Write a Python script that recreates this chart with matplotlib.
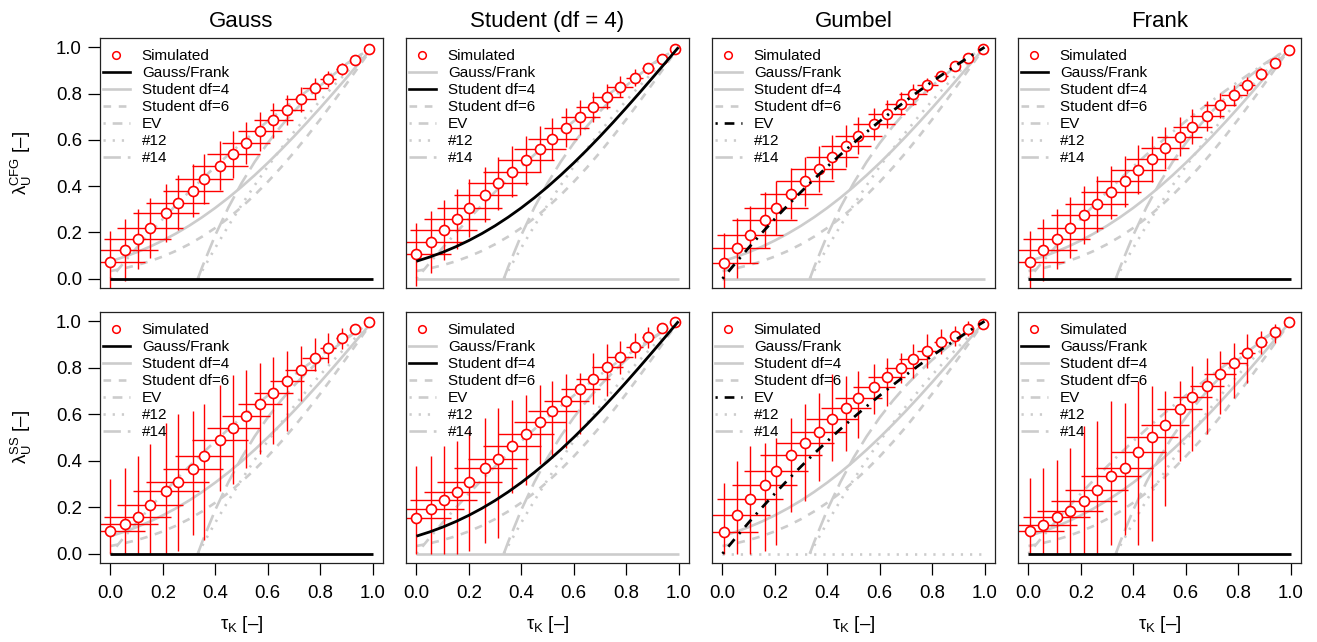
import matplotlib
matplotlib.use('Agg')
import matplotlib.pyplot as plt
from matplotlib.lines import Line2D
import numpy as np

plt.rcParams['font.family'] = ['Liberation Sans', 'DejaVu Sans']
plt.rcParams['mathtext.fontset'] = 'custom'
plt.rcParams['mathtext.rm'] = 'Liberation Sans'
plt.rcParams['mathtext.it'] = 'Liberation Sans:italic'
plt.rcParams['mathtext.bf'] = 'Liberation Sans:bold'
plt.rcParams['lines.scale_dashes'] = False

# ---------------- data ----------------
titles = ['Gauss', 'Student (df = 4)', 'Gumbel', 'Frank']
ylabels = [r'$\mathrm{\lambda_{U}^{CFG}}$ [–]', r'$\mathrm{\lambda_{U}^{SS}}$ [–]']
xlabel = r'$\mathrm{\tau_{K}}$ [–]'
tick_vals = [0.0, 0.2, 0.4, 0.6, 0.8, 1.0]
tick_labels = ['0.0', '0.2', '0.4', '0.6', '0.8', '1.0']

# theoretical curves
curve_tau = [0.00, 0.05, 0.10, 0.15, 0.20, 0.25, 0.30, 0.35, 0.40, 0.45, 0.50,
             0.55, 0.60, 0.65, 0.70, 0.75, 0.80, 0.85, 0.90, 0.95, 1.00]
zero_lam = [0.0] * 21
t4_lam = [0.0756, 0.0936, 0.1144, 0.1382, 0.1652, 0.1954, 0.2289, 0.2659, 0.3062, 0.3499, 0.3968,
          0.4470, 0.5001, 0.5560, 0.6144, 0.6751, 0.7377, 0.8018, 0.8672, 0.9334, 1.0]
t6_lam = [0.0331, 0.0444, 0.0584, 0.0754, 0.0961, 0.1204, 0.1490, 0.1820, 0.2196, 0.2621, 0.3093,
          0.3615, 0.4184, 0.4799, 0.5455, 0.6150, 0.6877, 0.7633, 0.8410, 0.9201, 1.0]
ev_lam = [0.0, 0.0681, 0.1339, 0.1975, 0.2589, 0.3182, 0.3755, 0.4308, 0.4843, 0.5359, 0.5858,
          0.6340, 0.6805, 0.7254, 0.7689, 0.8108, 0.8513, 0.8904, 0.9282, 0.9647, 1.0]
c1x_tau = [0.3333, 0.35, 0.40, 0.45, 0.50, 0.55, 0.60, 0.65, 0.70, 0.75, 0.80, 0.85, 0.90, 0.95, 1.00]
c12_lam = [0.0, 0.0344, 0.1339, 0.2284, 0.3182, 0.4034, 0.4843, 0.5610, 0.6340, 0.7032, 0.7689,
           0.8312, 0.8904, 0.9466, 1.0]
c14_lam = [0.0, 0.0506, 0.1888, 0.3080, 0.4126, 0.5045, 0.5858, 0.6581, 0.7229, 0.7810, 0.8335,
           0.8810, 0.9243, 0.9638, 1.0]

# simulated Kendall's tau (shared by both rows) and their error half-widths
tau_gauss = [0.000, 0.054, 0.104, 0.151, 0.212, 0.257, 0.314, 0.358, 0.418, 0.469,
             0.518, 0.571, 0.621, 0.674, 0.726, 0.781, 0.830, 0.882, 0.934, 0.988]
tau_student = [0.000, 0.054, 0.104, 0.155, 0.202, 0.262, 0.311, 0.365, 0.418, 0.471,
               0.519, 0.572, 0.625, 0.675, 0.728, 0.778, 0.833, 0.884, 0.936, 0.988]
tau_gumbel = [0.006, 0.054, 0.105, 0.161, 0.204, 0.263, 0.315, 0.367, 0.417, 0.470,
              0.519, 0.577, 0.627, 0.680, 0.728, 0.782, 0.834, 0.886, 0.938, 0.994]
tau_frank = [0.006, 0.057, 0.107, 0.158, 0.212, 0.261, 0.316, 0.367, 0.419, 0.471,
             0.521, 0.577, 0.625, 0.680, 0.731, 0.784, 0.834, 0.889, 0.941, 0.993]
tau_err = [0.130, 0.127, 0.127, 0.127, 0.125, 0.120, 0.115, 0.110, 0.105, 0.100,
           0.092, 0.085, 0.075, 0.065, 0.060, 0.050, 0.032, 0.022, 0.010, 0.0]
tau_err_gumbel = [0.130, 0.127, 0.127, 0.125, 0.122, 0.118, 0.112, 0.105, 0.100, 0.095,
                  0.088, 0.080, 0.070, 0.060, 0.054, 0.040, 0.025, 0.015, 0.0, 0.0]

# CFG estimator (top row)
cfg_gauss = [0.072, 0.125, 0.172, 0.219, 0.283, 0.329, 0.381, 0.431, 0.488, 0.537,
             0.586, 0.637, 0.685, 0.728, 0.775, 0.823, 0.863, 0.905, 0.947, 0.991]
cfg_student = [0.105, 0.158, 0.210, 0.257, 0.306, 0.363, 0.412, 0.463, 0.511, 0.560,
               0.605, 0.652, 0.698, 0.743, 0.787, 0.829, 0.869, 0.909, 0.951, 0.994]
cfg_gumbel = [0.069, 0.132, 0.191, 0.254, 0.306, 0.368, 0.421, 0.473, 0.524, 0.573,
              0.618, 0.668, 0.711, 0.756, 0.796, 0.836, 0.876, 0.917, 0.955, 0.994]
cfg_frank = [0.072, 0.124, 0.172, 0.221, 0.276, 0.322, 0.374, 0.421, 0.471, 0.517,
             0.565, 0.614, 0.657, 0.704, 0.749, 0.793, 0.835, 0.884, 0.933, 0.989]
cfg_err = [0.135, 0.135, 0.130, 0.130, 0.125, 0.120, 0.115, 0.110, 0.105, 0.100,
           0.090, 0.085, 0.075, 0.065, 0.055, 0.045, 0.035, 0.025, 0.012, 0.0]
cfg_err_gumbel = [0.130, 0.130, 0.125, 0.120, 0.115, 0.110, 0.105, 0.100, 0.095, 0.090,
                  0.080, 0.070, 0.060, 0.050, 0.045, 0.030, 0.020, 0.012, 0.005, 0.0]

# SS estimator (bottom row) with lower/upper interval bounds
ss_gauss = [0.096, 0.128, 0.159, 0.208, 0.269, 0.307, 0.363, 0.419, 0.489, 0.539,
            0.592, 0.642, 0.693, 0.741, 0.792, 0.843, 0.885, 0.930, 0.967, 0.999]
ss_gauss_lo = [0.0, 0.0, 0.0, 0.0, 0.0, 0.01, 0.08, 0.06, 0.27, 0.30,
               0.37, 0.43, 0.47, 0.527, 0.657, 0.786, 0.822, 0.879, 0.944, 0.999]
ss_gauss_hi = [0.323, 0.369, 0.420, 0.473, 0.563, 0.600, 0.613, 0.642, 0.728, 0.770,
               0.790, 0.820, 0.845, 0.872, 0.894, 0.930, 0.951, 0.973, 0.987, 0.999]
ss_student = [0.154, 0.191, 0.230, 0.267, 0.310, 0.369, 0.408, 0.463, 0.514, 0.565,
              0.612, 0.655, 0.707, 0.753, 0.802, 0.845, 0.889, 0.931, 0.970, 0.999]
ss_student_lo = [0.0, 0.0, 0.0, 0.0, 0.01, 0.046, 0.067, 0.26, 0.297, 0.384,
                 0.412, 0.455, 0.513, 0.642, 0.678, 0.772, 0.843, 0.886, 0.951, 0.999]
ss_student_hi = [0.376, 0.420, 0.463, 0.487, 0.534, 0.585, 0.625, 0.660, 0.685, 0.728,
                 0.743, 0.772, 0.779, 0.865, 0.901, 0.915, 0.951, 0.976, 0.987, 0.999]
ss_gumbel = [0.092, 0.165, 0.236, 0.297, 0.355, 0.424, 0.477, 0.524, 0.579, 0.626,
             0.668, 0.717, 0.759, 0.800, 0.836, 0.874, 0.911, 0.938, 0.968, 0.987]
ss_gumbel_lo = [0.0, 0.0, 0.0, 0.01, 0.039, 0.18, 0.226, 0.312, 0.398, 0.441,
                0.499, 0.599, 0.635, 0.736, 0.757, 0.800, 0.859, 0.894, 0.937, 0.987]
ss_gumbel_hi = [0.305, 0.398, 0.463, 0.477, 0.499, 0.585, 0.642, 0.693, 0.772, 0.764,
                0.786, 0.815, 0.843, 0.865, 0.901, 0.944, 0.966, 0.980, 1.000, 0.987]
ss_frank = [0.096, 0.125, 0.157, 0.182, 0.226, 0.276, 0.333, 0.369, 0.437, 0.501,
            0.552, 0.624, 0.675, 0.723, 0.774, 0.820, 0.863, 0.912, 0.954, 0.996]
ss_frank_lo = [0.0, 0.0, 0.0, 0.0, 0.0, 0.0, 0.039, 0.082, 0.039, 0.053,
               0.204, 0.398, 0.441, 0.513, 0.599, 0.671, 0.736, 0.859, 0.908, 0.996]
ss_frank_hi = [0.326, 0.369, 0.405, 0.455, 0.549, 0.570, 0.657, 0.649, 0.743, 0.721,
               0.700, 0.743, 0.807, 0.843, 0.872, 0.908, 0.944, 0.958, 0.987, 0.996]

# ---------------- assembly ----------------
col_tau = [tau_gauss, tau_student, tau_gumbel, tau_frank]
col_tau_err = [tau_err, tau_err, tau_err_gumbel, tau_err]
top_lam = [cfg_gauss, cfg_student, cfg_gumbel, cfg_frank]
top_err = [cfg_err, cfg_err, cfg_err_gumbel, cfg_err]
bot_lam = [ss_gauss, ss_student, ss_gumbel, ss_frank]
bot_lo = [ss_gauss_lo, ss_student_lo, ss_gumbel_lo, ss_frank_lo]
bot_hi = [ss_gauss_hi, ss_student_hi, ss_gumbel_hi, ss_frank_hi]
highlight = ['Gauss/Frank', 'Student df=4', 'EV', 'Gauss/Frank']

GRAY = '#cccccc'
RED = '#ff0000'
DASHED = (0, (5.5, 5.5))
DOTTED = (0, (1.6, 5.0))
DOTDASH = (0, (1.6, 5.0, 7.0, 5.0))
LONGDASH = (0, (12.5, 5.0))

models = [
    ('Gauss/Frank', curve_tau, zero_lam, '-'),
    ('Student df=4', curve_tau, t4_lam, '-'),
    ('Student df=6', curve_tau, t6_lam, DASHED),
    ('EV', curve_tau, ev_lam, DOTDASH),
    ('#12', c1x_tau, c12_lam, DOTTED),
    ('#14', c1x_tau, c14_lam, LONGDASH),
]

FW, FH = 1317, 642
fig = plt.figure(figsize=(FW / 100, FH / 100), dpi=100)
lefts = [100, 406, 712, 1018]
PW = 283
rows = [(38, 288), (312, 563)]

for r in range(2):
    top, bot = rows[r]
    for c in range(4):
        ax = fig.add_axes([lefts[c] / FW, 1 - bot / FH, PW / FW, (bot - top) / FH])
        ax.set_xlim(-0.04, 1.04)
        ax.set_ylim(-0.04, 1.04)
        tau = np.array(col_tau[c])
        terr = np.array(col_tau_err[c])
        if r == 0:
            lam = np.array(top_lam[c])
            yerr = [np.array(top_err[c]), np.array(top_err[c])]
        else:
            lam = np.array(bot_lam[c])
            yerr = [lam - np.array(bot_lo[c]), np.array(bot_hi[c]) - lam]

        handles = [Line2D([], [], ls='none', marker='o', ms=5.5, mec=RED, mfc='white', mew=1.1)]
        labels = ['Simulated']
        black_line = None
        for name, xs, ys, ls in models:
            is_hl = (name == highlight[c])
            col = 'black' if is_hl else GRAY
            style = ls
            if r == 1 and c == 2 and name == 'Gauss/Frank':
                style = DOTTED
            if is_hl:
                black_line = (xs, ys, style)
            else:
                ax.plot(xs, ys, color=GRAY, lw=1.9, ls=style, zorder=1, solid_capstyle='butt')
            handles.append(Line2D([], [], color=col, lw=1.9, ls=ls))
            labels.append(name)

        ax.errorbar(tau, lam, xerr=[terr, terr], yerr=yerr, fmt='none',
                    ecolor=RED, elinewidth=1.0, capsize=0, zorder=2)
        ax.plot(tau, lam, ls='none', marker='o', ms=7.2, mec=RED, mfc='white',
                mew=1.2, zorder=3)
        if black_line is not None:
            ax.plot(black_line[0], black_line[1], color='black', lw=2.0,
                    ls=black_line[2], zorder=4, solid_capstyle='butt')

        ax.legend(handles, labels, loc='upper left', frameon=False, fontsize=11,
                  handlelength=1.76, handletextpad=0.78, labelspacing=0.2,
                  borderaxespad=0.0, borderpad=0.0,
                  bbox_to_anchor=(3 / PW, 1 - 11 / (bot - top)))

        for sp in ax.spines.values():
            sp.set_linewidth(0.9)
            sp.set_color('#222222')

        ax.set_xticks(tick_vals)
        ax.set_yticks(tick_vals)
        if r == 1:
            ax.set_xticklabels(tick_labels)
            ax.tick_params(axis='x', direction='out', length=8.5, width=0.9,
                           labelsize=13.4, pad=7)
            ax.set_xlabel(xlabel, fontsize=13.4, labelpad=9)
        else:
            ax.tick_params(axis='x', bottom=False, labelbottom=False)
            ax.set_title(titles[c], fontsize=16, pad=8)
        if c == 0:
            ax.set_yticklabels(tick_labels)
            ax.tick_params(axis='y', direction='out', length=9, width=0.9,
                           labelsize=13.4, pad=4)
            ax.set_ylabel(ylabels[r], fontsize=13.4, labelpad=16)
        else:
            ax.tick_params(axis='y', left=False, labelleft=False)

fig.savefig('out.png', dpi=100)
